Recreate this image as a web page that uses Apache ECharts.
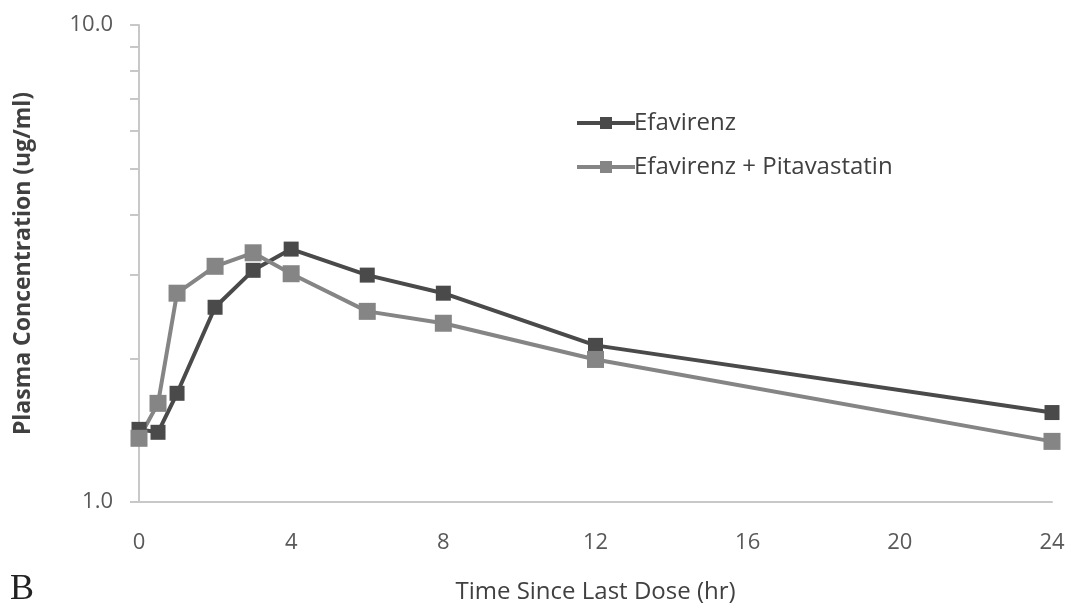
<!DOCTYPE html>
<html>
<head>
<meta charset="utf-8">
<script src="https://cdn.jsdelivr.net/npm/echarts@6/dist/echarts.min.js"></script>
<style>
  html, body { margin: 0; padding: 0; background: #fff; }
  #chart { width: 1079px; height: 613px; }
</style>
</head>
<body>
<div id="chart"></div>
<script>
// time points (hr) and mean plasma concentrations (ug/ml)
var hours = [0, 0.5, 1, 2, 3, 4, 6, 8, 12, 24];
var efavirenz = [1.42, 1.40, 1.69, 2.56, 3.06, 3.39, 2.99, 2.74, 2.13, 1.54];
var efavirenzPita = [1.36, 1.61, 2.74, 3.12, 3.33, 3.01, 2.51, 2.37, 1.99, 1.34];
var yTicks = [1, 2, 3, 4, 5, 6, 7, 8, 9, 10];
var yLabels = [1, 10];

function pairs(xs, ys) {
    return xs.map(function (x, i) { return [x, ys[i]]; });
}

var font = "'Open Sans', 'Noto Sans', sans-serif";
var chart = echarts.init(document.getElementById("chart"));

chart.setOption({
    animation: false,
    backgroundColor: "#fff",
    grid: { left: 139, right: 27, top: 25, bottom: 111 },
    legend: {
        orient: "vertical",
        left: 570,
        top: 106,
        itemGap: 20,
        itemWidth: 58,
        itemHeight: 15,
        lineStyle: { width: 4 },
        textStyle: { fontFamily: font, fontSize: 24, color: "#404040", padding: [0, 0, 0, -6] },
        data: ["Efavirenz", "Efavirenz + Pitavastatin"]
    },
    xAxis: {
        type: "value",
        min: 0,
        max: 24,
        interval: 4,
        name: "Time Since Last Dose (hr)",
        nameLocation: "middle",
        nameGap: 78,
        nameTextStyle: { fontFamily: font, fontSize: 24, color: "#404040" },
        axisLine: { lineStyle: { color: "#c8c8c8", width: 2 } },
        axisTick: { show: false },
        axisLabel: { fontFamily: font, fontSize: 22, color: "#595959", margin: 30 },
        splitLine: { show: false }
    },
    yAxis: {
        type: "log",
        logBase: 10,
        min: 1,
        max: 10,
        name: "Plasma Concentration (ug/ml)",
        nameLocation: "middle",
        nameGap: 104,
        nameTextStyle: { fontFamily: font, fontSize: 23, fontWeight: "bold", color: "#404040" },
        axisLine: { show: true, lineStyle: { color: "#c8c8c8", width: 2 } },
        axisTick: { show: true, length: 9, customValues: yTicks, lineStyle: { color: "#c8c8c8", width: 2 } },
        axisLabel: {
            fontFamily: font, fontSize: 22, color: "#595959", margin: 26,
            customValues: yLabels,
            formatter: function (v) { return Number(v).toFixed(1); }
        },
        splitLine: { show: false }
    },
    series: [
        {
            name: "Efavirenz",
            type: "line",
            data: pairs(hours, efavirenz),
            symbol: "rect",
            symbolSize: 15,
            itemStyle: { color: "#4a4a4a" },
            lineStyle: { color: "#4a4a4a", width: 4 }
        },
        {
            name: "Efavirenz + Pitavastatin",
            type: "line",
            data: pairs(hours, efavirenzPita),
            symbol: "rect",
            symbolSize: 17,
            itemStyle: { color: "#858585" },
            lineStyle: { color: "#858585", width: 4 }
        }
    ],
    graphic: [{
        type: "text",
        left: 10,
        top: 572,
        style: { text: "B", font: "36px 'Liberation Serif', serif", fill: "#222" }
    }]
});
</script>
</body>
</html>
